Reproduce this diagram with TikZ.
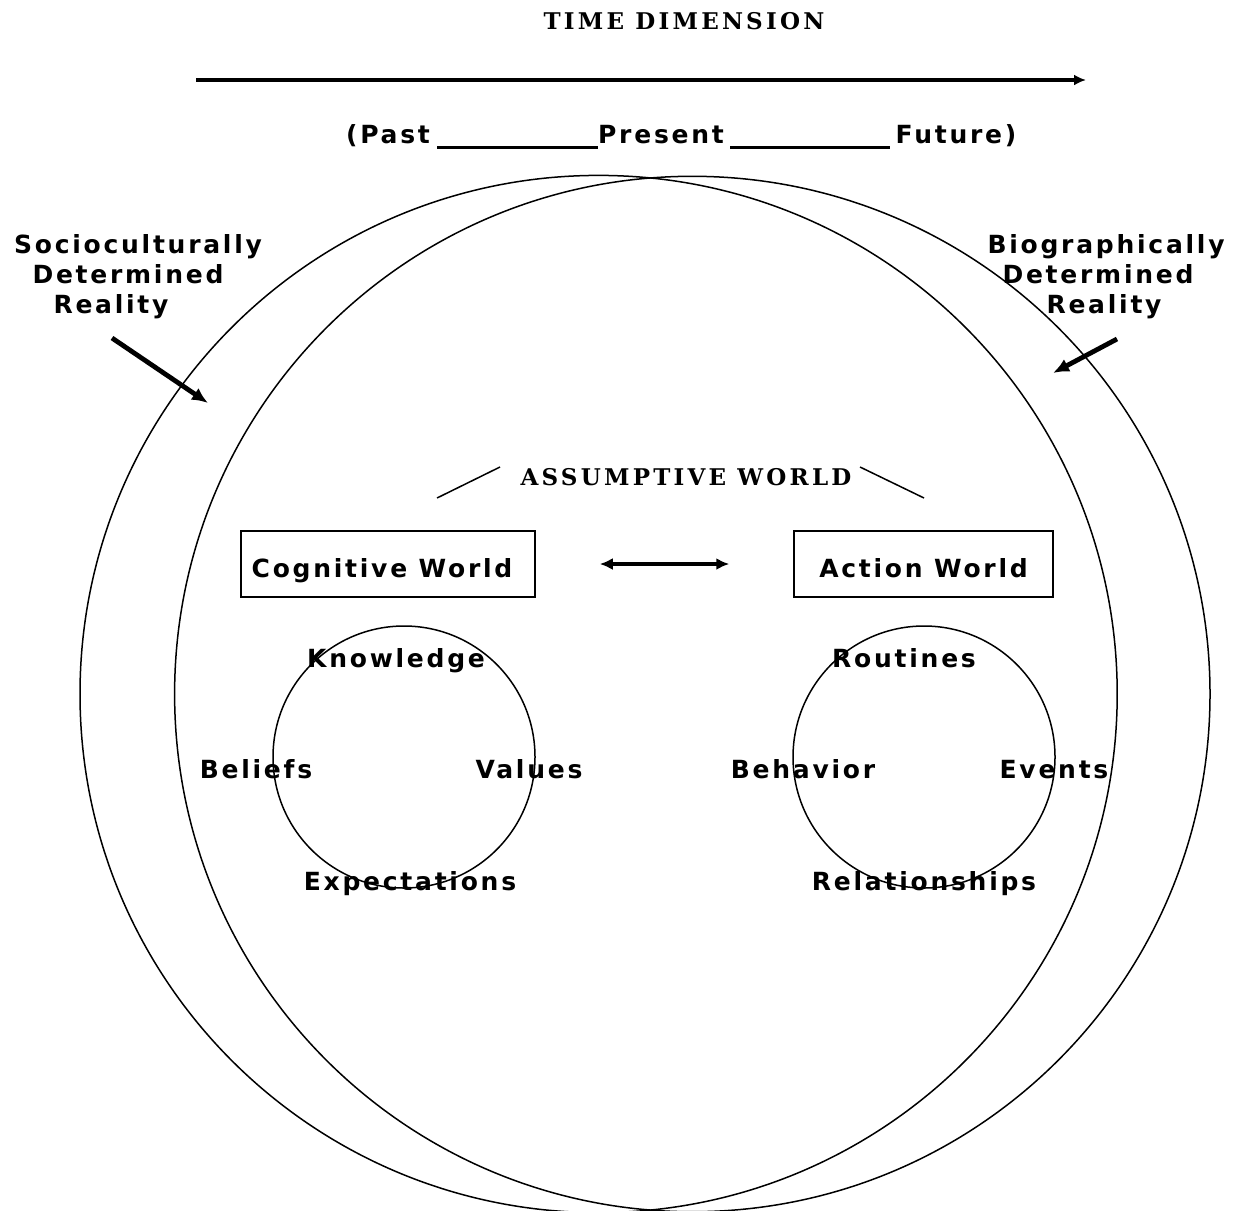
\documentclass[tikz,border=0pt]{standalone}
\usepackage{fontspec}
\usetikzlibrary{arrows.meta}
\newfontfamily\labfont[LetterSpace=11]{DejaVu Sans}
\newfontfamily\capfont[LetterSpace=14]{DejaVu Serif}
\begin{document}
\begin{tikzpicture}[x=0.5pt,y=-0.5pt,
  lab/.style={font=\labfont\bfseries\fontsize{12.5}{15}\selectfont, inner sep=0pt, anchor=base},
  captxt/.style={font=\capfont\bfseries\fontsize{11.5}{14}\selectfont, inner sep=0pt, anchor=base},
  thin/.style={line width=0.75pt},
  thick arrow/.style={line width=2.4pt, -{Latex[length=8pt,width=7pt]}},
  uline/.style={line width=1.5pt},
  worldbox/.style={draw, line width=0.75pt, minimum height=33pt, inner sep=0pt, text height=13pt, text depth=0pt, font=\labfont\bfseries\fontsize{12.5}{15}\selectfont},
  ring/.style={draw, circle, line width=0.75pt, minimum size=131pt, inner sep=0pt}
]
\useasboundingbox (0,0) rectangle (1234,1210);

% title and time axis
\node[captxt] (title) at (684,29) {TIME DIMENSION};
\coordinate (tstart) at (196,80);
\coordinate (tend) at (1086,80);
\draw[line width=2pt, -{Latex[length=6pt,width=5.5pt]}] (tstart) -- (tend);

\node[lab] (past) at (388,143) {(Past};
\node[lab] (present) at (661,143) {Present};
\node[lab] (future) at (956,143) {Future)};
\coordinate (u1a) at (437,147); \coordinate (u1b) at (598,147);
\coordinate (u2a) at (730,147); \coordinate (u2b) at (890,147);
\draw[uline] (u1a) -- (u1b);
\draw[uline] (u2a) -- (u2b);

% two large overlapping circles
\draw[thin] (598.6,694) circle[radius=518.6];
\draw[thin] (692.3,694) circle[radius=517.7];

% side labels
\node[lab] (soc1) at (138,253) {Socioculturally};
\node[lab] (soc2) at (128,283) {Determined};
\node[lab] (soc3) at (111,313) {Reality};
\node[lab] (bio1) at (1106,253) {Biographically};
\node[lab] (bio2) at (1098,283) {Determined};
\node[lab] (bio3) at (1104,313) {Reality};
\coordinate (la0) at (112,338); \coordinate (la1) at (208,403);
\coordinate (ra0) at (1117,339); \coordinate (ra1) at (1053,373);
\draw[thick arrow] (la0) -- (la1);
\draw[thick arrow] (ra0) -- (ra1);

% assumptive world
\node[captxt] (aw) at (686,485) {ASSUMPTIVE WORLD};
\coordinate (aw1a) at (437,498); \coordinate (aw1b) at (500,467);
\coordinate (aw2a) at (860,467); \coordinate (aw2b) at (924,498);
\draw[thin] (aw1a) -- (aw1b);
\draw[thin] (aw2a) -- (aw2b);

% boxes
\node[worldbox, minimum width=147pt] (cog) at (388,564) {Cognitive World\kern6pt};
\node[worldbox, minimum width=129.5pt] (act) at (923.5,564) {Action World};
\draw[line width=1.6pt, {Latex[length=6.5pt,width=6pt]}-{Latex[length=6.5pt,width=6pt]}, shorten <=32pt, shorten >=32pt] (cog.east) -- (act.west);

% small circles
\node[ring] (cring) at (404,757) {};
\node[ring] (aring) at (924,757) {};

\node[lab] (know) at (396,667) {Knowledge};
\node[lab] (beli) at (256,778) {Beliefs};
\node[lab] (valu) at (529,778) {Values};
\node[lab] (expe) at (410,890) {Expectations};

\node[lab] (rout) at (904,667) {Routines};
\node[lab] (beha) at (803,778) {Behavior};
\node[lab] (even) at (1054,778) {Events};
\node[lab] (rela) at (924,890) {Relationships};
\end{tikzpicture}
\end{document}
